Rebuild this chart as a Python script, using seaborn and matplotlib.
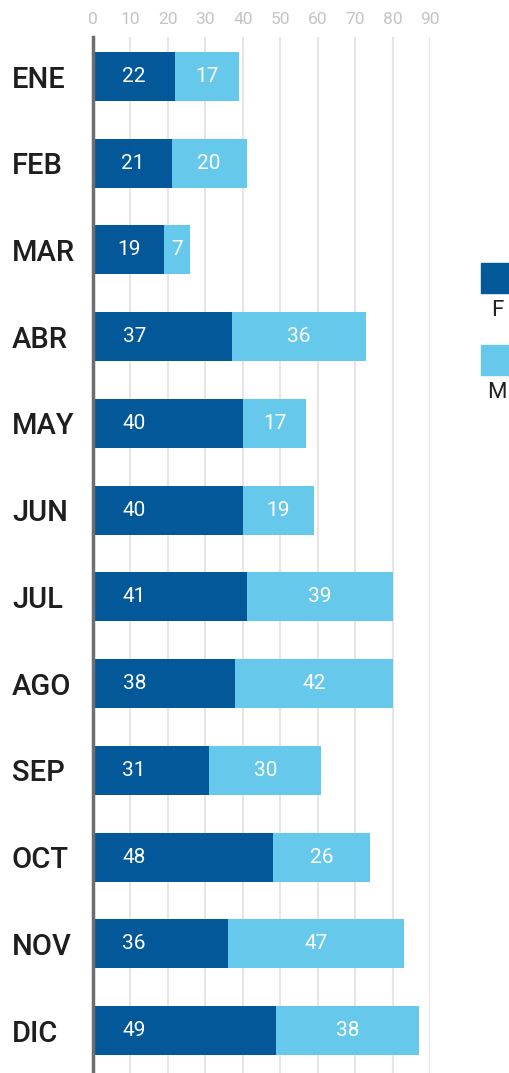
import numpy as np
import pandas as pd
import seaborn as sns
import matplotlib.pyplot as plt
from matplotlib.patches import Rectangle

months = ['ENE', 'FEB', 'MAR', 'ABR', 'MAY', 'JUN', 'JUL', 'AGO', 'SEP', 'OCT', 'NOV', 'DIC']
f_vals = [22, 21, 19, 37, 40, 40, 41, 38, 31, 48, 36, 49]
m_vals = [17, 20, 7, 36, 17, 19, 39, 42, 30, 26, 47, 38]
xticks = [0, 10, 20, 30, 40, 50, 60, 70, 80, 90]

dark = '#035899'
light = '#66c8ea'

df = pd.DataFrame({'Mes': months, 'F': f_vals, 'M': m_vals})
df['Total'] = df['F'] + df['M']

sns.set_style('white')
plt.rcParams['font.family'] = ['Roboto', 'DejaVu Sans']

fig = plt.figure(figsize=(5.1, 10.73), dpi=100)
ax = fig.add_axes([93 / 510, 0, (430 - 93) / 510, (1073 - 37) / 1073])

sns.barplot(x='Total', y='Mes', data=df, color=light, orient='h',
            width=0.565, saturation=1, linewidth=0, ax=ax)
sns.barplot(x='F', y='Mes', data=df, color=dark, orient='h',
            width=0.565, saturation=1, linewidth=0, ax=ax)

ax.set_xlim(0, 90)
ax.set_ylim(11.49, -0.456)
ax.set_xticks(xticks)
ax.xaxis.tick_top()
ax.tick_params(axis='x', length=0, pad=7, labelsize=12.5, labelcolor='#c4c4c4')
ax.grid(axis='x', color='#e6e6e6', linewidth=1.5)
ax.set_axisbelow(True)
ax.set_xlabel('')
ax.set_ylabel('')
for s in ['top', 'right', 'bottom']:
    ax.spines[s].set_visible(False)
ax.spines['left'].set_color('#6e6e6e')
ax.spines['left'].set_linewidth(2.5)
ax.spines['left'].set_zorder(5)

# month labels, left aligned near figure edge
ax.tick_params(axis='y', length=0, pad=(93 - 12) * 72 / 100)
for lab in ax.get_yticklabels():
    lab.set_horizontalalignment('left')
    lab.set_fontweight('medium')
    lab.set_fontsize(21)
    lab.set_color('#1e1e1e')

# value labels
for i, (f, m) in enumerate(zip(f_vals, m_vals)):
    ax.text(min(f / 2, 11), i, str(f), color='white', fontsize=15,
            ha='center', va='center')
    ax.text(f + m / 2, i, str(m), color='white', fontsize=15,
            ha='center', va='center')

# legend (partially cut at the right edge, label under the swatch)
for y0, lab, col in [(263, 'F', dark), (345, 'M', light)]:
    fig.patches.append(Rectangle((481 / 510, 1 - (y0 + 30) / 1073), 31 / 510, 30 / 1073,
                                 transform=fig.transFigure, color=col))
    fig.text(497 / 510, 1 - (y0 + 48) / 1073, lab, ha='center', va='center',
             fontsize=16, color='#222222')

fig.savefig('out.png', dpi=100)
